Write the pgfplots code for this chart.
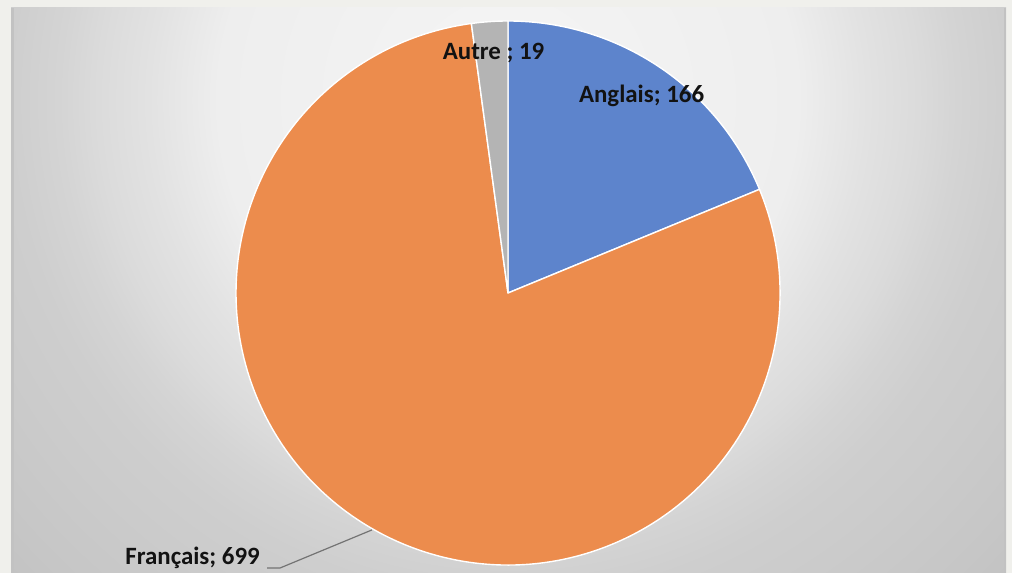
\documentclass[border=0pt]{standalone}
\usepackage{pgfplots}
\pgfplotsset{compat=1.18}
\usepackage{pgfplotstable}
\usepackage{fontspec}
\setmainfont{Carlito}

\definecolor{cAng}{RGB}{93,132,204}
\definecolor{cFra}{RGB}{236,140,77}
\definecolor{cAut}{RGB}{180,180,180}
\definecolor{outerbg}{RGB}{240,240,236}
\definecolor{txt}{RGB}{18,18,18}
\definecolor{edge}{RGB}{194,194,194}
\definecolor{g0}{RGB}{245,245,245}
\definecolor{g1}{RGB}{238,238,238}
\definecolor{g2}{RGB}{226,226,226}
\definecolor{g3}{RGB}{219,219,219}
\definecolor{g4}{RGB}{212,212,212}
\definecolor{g5}{RGB}{206,206,206}
\definecolor{g6}{RGB}{203,203,203}
\definecolor{g7}{RGB}{198,198,198}
\definecolor{g8}{RGB}{194,194,194}

\pgfdeclareradialshading{panel}{\pgfpoint{0bp}{0bp}}{%
  color(0bp)=(g0); color(20.7bp)=(g1); color(25.7bp)=(g2);
  color(29.3bp)=(g3); color(32.1bp)=(g4); color(35.7bp)=(g5);
  color(40bp)=(g6); color(46.4bp)=(g7); color(50bp)=(g8)}

\pgfplotstableread{
id value
0 166
1 699
2 19
}\pietable

\pgfplotstablegetelem{0}{value}\of\pietable \let\vA\pgfplotsretval
\pgfplotstablegetelem{1}{value}\of\pietable \let\vF\pgfplotsretval
\pgfplotstablegetelem{2}{value}\of\pietable \let\vO\pgfplotsretval
\pgfmathsetmacro\tot{\vA+\vF+\vO}
\pgfmathsetmacro\fA{\vA/\tot}
\pgfmathsetmacro\fF{\vF/\tot}
\pgfmathsetmacro\fO{\vO/\tot}
\pgfmathsetmacro\aA{90-360*\fA}
\pgfmathsetmacro\aF{\aA-360*\fF}
\pgfmathsetmacro\aO{\aF-360*\fO}

\begin{document}
\begin{tikzpicture}[x=1bp,y=1bp]
\useasboundingbox (0,0) rectangle (1012,573);
\fill[outerbg] (0,0) rectangle (1012,573);
\begin{scope}
  \clip (11,0) rectangle (1006,565);
  \pgftransformshift{\pgfpoint{508bp}{473bp}}%
  \pgftransformscale{14}%
  \pgflowlevelsynccm
  \pgfuseshading{panel}%
\end{scope}
\fill[edge] (11,0) rectangle (13.5,565);
\fill[edge] (1003.5,0) rectangle (1006,565);
\begin{axis}[
  at={(236bp,8bp)}, anchor=south west,
  scale only axis, width=544bp, height=544bp,
  xmin=-1, xmax=1, ymin=-1, ymax=1,
  hide axis, clip=false,
]
\addplot[draw=none] coordinates {(0,0)};
\filldraw[fill=cAng, draw=white, line width=1.4bp, line join=round]
  (axis cs:0,0) -- (axis cs:0,1) arc[start angle=90, end angle=\aA, radius=272bp] -- cycle;
\filldraw[fill=cFra, draw=white, line width=1.4bp, line join=round]
  (axis cs:0,0) -- (axis cs:{cos(\aA)},{sin(\aA)}) arc[start angle=\aA, end angle=\aF, radius=272bp] -- cycle;
\filldraw[fill=cAut, draw=white, line width=1.4bp, line join=round]
  (axis cs:0,0) -- (axis cs:{cos(\aF)},{sin(\aF)}) arc[start angle=\aF, end angle=\aO, radius=272bp] -- cycle;

\draw[gray!90!black, line width=1.2bp]
  (axis cs:-0.886,-1.011) -- (axis cs:-0.838,-1.011) -- (axis cs:-0.5,-0.871);

\node[anchor=base, text=txt, font=\fontsize{25}{29}\selectfont\bfseries, inner sep=0pt]
  at (axis cs:0.491,0.699) {Anglais; \vA};
\node[anchor=base, text=txt, font=\fontsize{25}{29}\selectfont\bfseries, inner sep=0pt]
  at (axis cs:-0.053,0.860) {Autre ; \vO};
\node[anchor=base east, text=txt, font=\fontsize{25}{29}\selectfont\bfseries, inner sep=0pt]
  at (axis cs:-0.912,-1.0) {Français; \vF};
\end{axis}
\end{tikzpicture}
\end{document}
